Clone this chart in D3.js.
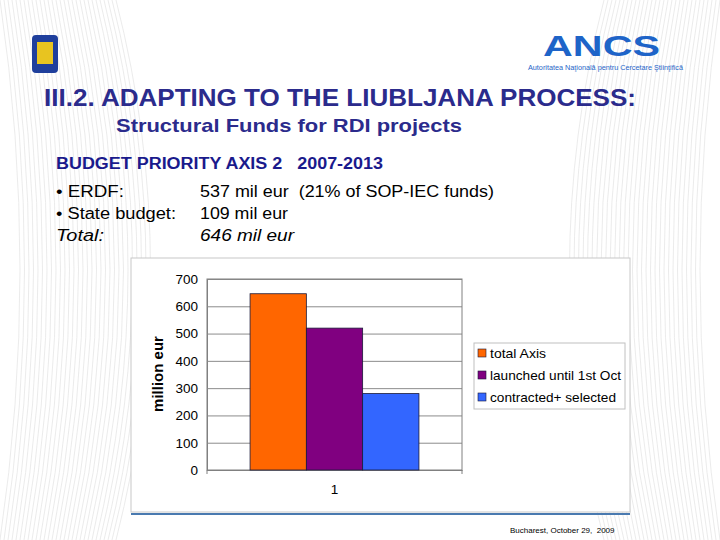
<!DOCTYPE html><html><head><meta charset="utf-8">
<script src="https://cdn.jsdelivr.net/npm/d3@7"></script>
<style>body{margin:0;background:#fff}text{font-family:Arial,"Liberation Sans",sans-serif;white-space:pre}</style></head><body>
<script>
const categories=["1"];
const seriesNames=["total Axis","launched until 1st Oct","contracted+ selected"];
const seriesValues=[646,520,280];
const colors=["#ff6600","#800080","#3366ff"];
const yTicks=[0,100,200,300,400,500,600,700];
const W=720,H=540;
const svg=d3.select("body").append("svg").attr("width",W).attr("height",H);
const bg=svg.append("g").attr("stroke","#e2e2e2").attr("fill","none").attr("stroke-width",0.7);
for(let i=0;i<30;i++){
  bg.append("path").attr("d",`M${i*4},0 Q${40+i*5},270 ${i*4},540`);
  bg.append("path").attr("d",`M${W-i*4},0 Q${W-40-i*5},270 ${W-i*4},540`);
}
function T(x,y,s,size,len,opts={}){
  const t=svg.append("text").attr("x",x).attr("y",y).attr("font-size",size).text(s);
  if(len){t.attr("textLength",len).attr("lengthAdjust","spacingAndGlyphs");}
  for(const k in opts)t.attr(k,opts[k]);
  return t;
}
svg.append("rect").attr("x",32).attr("y",35).attr("width",26).attr("height",38).attr("rx",4).attr("fill","#1f3f9c");
svg.append("rect").attr("x",37).attr("y",42).attr("width",16).attr("height",22).attr("fill","#e8c420");
T(543,56,"ANCS",30,117,{"font-weight":"bold",fill:"#1e64c8"});
T(528,70,"Autoritatea Naţională pentru Cercetare Ştiinţifică",6.5,155,{fill:"#1e64c8"});
T(44,106,"III.2. ADAPTING TO THE LIUBLJANA PROCESS:",23,592,{"font-weight":"bold",fill:"#2b2b8c"});
T(116,132,"Structural Funds for RDI projects",18.5,346,{"font-weight":"bold",fill:"#2b2b8c"});
T(56,169,"BUDGET PRIORITY AXIS 2   2007-2013",16,327,{"font-weight":"bold",fill:"#1a1a8c"});
const rows=[["• ERDF:","537 mil eur  (21% of SOP-IEC funds)",false,68,294],["• State budget:","109 mil eur",false,120,88],["Total:","646 mil eur",true,48,94]];
rows.forEach((r,i)=>{
  const y=197+i*22;
  T(56,y,r[0],16,r[3],{"font-style":r[2]?"italic":"normal"});
  T(200,y,r[1],16,r[4],{"font-style":r[2]?"italic":"normal"});
});
svg.append("rect").attr("x",131).attr("y",258).attr("width",499).attr("height",254).attr("fill","#fff").attr("stroke","#c8c8c8");
svg.append("line").attr("x1",131).attr("x2",630).attr("y1",514).attr("y2",514).attr("stroke","#4a7ab0").attr("stroke-width",2);
const x0=207,x1=462,yTop=279,yBot=470;
const y=d3.scaleLinear().domain([0,700]).range([yBot,yTop]);
const xc=d3.scaleBand().domain(categories).range([x0,x1]).paddingInner(0).paddingOuter(0.255);
const xs=d3.scaleBand().domain(seriesNames).range([0,xc.bandwidth()]);
const g=svg.append("g");
g.append("g").attr("transform",`translate(${x0},0)`).call(d3.axisLeft(y).tickValues(yTicks).tickSize(-(x1-x0)).tickFormat(d3.format("d")))
 .call(a=>{a.select(".domain").attr("stroke","#808080");a.selectAll(".tick line").attr("stroke","#8c8c8c");a.selectAll("text").attr("font-size",13.5).attr("fill","#000").attr("x",-9);});
g.append("rect").attr("x",x0).attr("y",yTop).attr("width",x1-x0).attr("height",yBot-yTop).attr("fill","none").attr("stroke","#808080");
g.append("g").attr("transform",`translate(0,${yBot})`).call(d3.axisBottom(xc).tickSize(0).tickPadding(14))
 .call(a=>{a.select(".domain").attr("stroke","#808080");a.selectAll("text").attr("font-size",13.5);});
[x0,x1].forEach(v=>g.append("line").attr("x1",v).attr("x2",v).attr("y1",yBot).attr("y2",yBot+4).attr("stroke","#808080"));
seriesNames.forEach((s,i)=>{
  g.append("rect").attr("x",xc("1")+xs(s)).attr("y",y(seriesValues[i])).attr("width",xs.bandwidth()).attr("height",yBot-y(seriesValues[i])).attr("fill",colors[i]).attr("stroke","#1a1a3a").attr("stroke-width",0.8);
});
svg.append("text").attr("transform","translate(163,374) rotate(-90)").attr("text-anchor","middle").attr("font-size",15).attr("font-weight","bold").text("million eur");
svg.append("rect").attr("x",474).attr("y",343).attr("width",151).attr("height",66).attr("fill","#fff").attr("stroke","#c0c0c0");
const legLen=[56,131,126];
seriesNames.forEach((s,i)=>{
  const ly=354+i*22;
  svg.append("rect").attr("x",478).attr("y",ly-5).attr("width",8).attr("height",8).attr("fill",colors[i]).attr("stroke","#1a1a3a").attr("stroke-width",0.6);
  T(490,ly+4,s,13,legLen[i]);
});
T(510,533,"Bucharest, October 29,  2009",8);
</script></body></html>
